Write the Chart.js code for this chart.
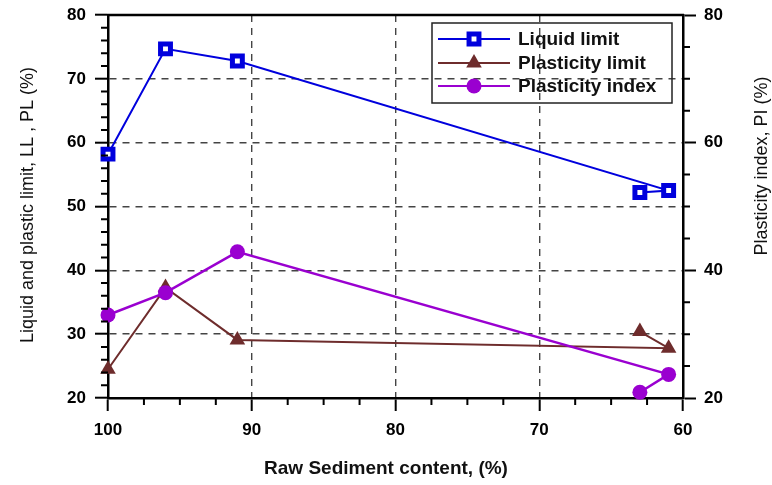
<!DOCTYPE html>
<html>
<head>
<meta charset="utf-8">
<script src="https://cdn.jsdelivr.net/npm/chart.js@4/dist/chart.umd.min.js"></script>
<style>
  html, body { margin: 0; padding: 0; background: #fff; }
  canvas { display: block; }
</style>
</head>
<body>
<canvas id="myChart" width="772" height="485"></canvas>
<script>
// x values in the order the original plot joins them
const sedimentContent = [100, 96, 91, 61, 63];
const liquidLimit = [58.2, 74.7, 72.8, 52.5, 52.2];
const plasticLimit = [24.5, 37.3, 29.1, 27.8, 30.4];
const plasticityIndex = [33.0, 36.5, 42.9, 23.7, 20.9];

const xTicks = [100, 90, 80, 70, 60];
const leftTicks = [20, 30, 40, 50, 60, 70, 80];
const rightTicks = [20, 40, 60, 80];

const seriesNames = ['Liquid limit', 'Plasticity limit', 'Plasticity index'];

const FONT = 'Arial, "Liberation Sans", Helvetica, sans-serif';
const BLUE = '#0000dd';
const BROWN = '#6e2c2c';
const PURPLE = '#9a00d0';

const toPoints = (vals) => sedimentContent.map((x, i) => ({ x: x, y: vals[i] }));

// grid dashed only inside, not on the frame
function innerGrid(ctx) {
    const s = ctx.scale;
    if (ctx.tick && (ctx.tick.value === s.min || ctx.tick.value === s.max)) return 'rgba(0,0,0,0)';
    return '#444';
}

// minor ticks, titles, frame top and legend
const extrasPlugin = {
    id: 'extras',
    afterDraw(chart) {
        const ctx = chart.ctx;
        const a = chart.chartArea;
        const x = chart.scales.x, y = chart.scales.y, y1 = chart.scales.y1;
        ctx.save();
        ctx.strokeStyle = '#000';
        ctx.lineWidth = 2;
        ctx.beginPath();
        for (let v = 60; v <= 100; v += 2.5) {
            if (v % 10 === 0) continue;
            const px = x.getPixelForValue(v);
            ctx.moveTo(px, a.bottom); ctx.lineTo(px, a.bottom + 7);
        }
        for (let v = 20; v <= 80; v += 2) {
            if (v % 10 === 0) continue;
            const py = y.getPixelForValue(v);
            ctx.moveTo(a.left, py); ctx.lineTo(a.left - 7, py);
        }
        for (let v = 20; v <= 80; v += 5) {
            if (v % 20 === 0) continue;
            const py = y1.getPixelForValue(v);
            ctx.moveTo(a.right, py); ctx.lineTo(a.right + 7, py);
        }
        ctx.stroke();

        // top frame line
        ctx.lineWidth = 2.5;
        ctx.beginPath();
        ctx.moveTo(a.left - 1, a.top); ctx.lineTo(a.right + 1, a.top);
        ctx.stroke();

        // axis titles
        ctx.fillStyle = '#111';
        ctx.textAlign = 'center';
        ctx.textBaseline = 'middle';
        ctx.font = 'bold 19px ' + FONT;
        ctx.fillText('Raw Sediment content, (%)', 386, 469);

        ctx.font = '18px ' + FONT;
        ctx.save();
        ctx.translate(28, 205);
        ctx.rotate(-Math.PI / 2);
        ctx.fillText('Liquid and plastic limit, LL , PL (%)', 0, 0);
        ctx.restore();
        ctx.save();
        ctx.translate(762, 166);
        ctx.rotate(-Math.PI / 2);
        ctx.fillText('Plasticity index, PI (%)', 0, 0);
        ctx.restore();

        // legend box
        ctx.lineWidth = 1.5;
        ctx.strokeStyle = '#222';
        ctx.strokeRect(432, 23, 240, 80);
        const rows = [39, 63, 86];
        chart.data.datasets.forEach((ds, i) => {
            const ry = rows[i];
            ctx.strokeStyle = ds.borderColor;
            ctx.lineWidth = 2;
            ctx.beginPath();
            ctx.moveTo(438, ry); ctx.lineTo(510, ry);
            ctx.stroke();
            drawMarker(ctx, ds, 474, ry);
            ctx.fillStyle = '#111';
            ctx.textAlign = 'left';
            ctx.font = 'bold 19px ' + FONT;
            ctx.fillText(seriesNames[i], 518, ry + 1);
        });
        ctx.restore();
    }
};

function drawMarker(ctx, ds, cx, cy) {
    const r = ds.pointRadius;
    ctx.fillStyle = ds.pointBackgroundColor;
    ctx.strokeStyle = ds.pointBorderColor;
    ctx.lineWidth = ds.pointBorderWidth;
    ctx.beginPath();
    if (ds.pointStyle === 'rect') {
        const s = Math.SQRT1_2 * r;
        ctx.rect(cx - s, cy - s, 2 * s, 2 * s);
    } else if (ds.pointStyle === 'triangle') {
        let rad = 0;
        ctx.moveTo(cx + Math.sin(rad) * r, cy - Math.cos(rad) * r);
        rad += 2 * Math.PI / 3;
        ctx.lineTo(cx + Math.sin(rad) * r, cy - Math.cos(rad) * r);
        rad += 2 * Math.PI / 3;
        ctx.lineTo(cx + Math.sin(rad) * r, cy - Math.cos(rad) * r);
        ctx.closePath();
    } else {
        ctx.arc(cx, cy, r, 0, Math.PI * 2);
    }
    ctx.fill();
    if (ds.pointBorderWidth) ctx.stroke();
}

// keep the plot frame where the original has it
function fixVertical(width) {
    return (s) => {
        s.width = width;
        s.paddingTop = 0;
        s.paddingBottom = 0;
    };
}

const myChart = new Chart(document.getElementById('myChart'), {
    type: 'scatter',
    data: {
        datasets: [
            {
                label: seriesNames[0],
                data: toPoints(liquidLimit),
                yAxisID: 'y',
                showLine: true,
                borderColor: BLUE,
                borderWidth: 2,
                pointStyle: 'rect',
                pointRadius: 7,
                pointBackgroundColor: '#fff',
                pointBorderColor: BLUE,
                pointBorderWidth: 5,
                clip: false,
                order: 3
            },
            {
                label: seriesNames[1],
                data: toPoints(plasticLimit),
                yAxisID: 'y',
                showLine: true,
                borderColor: BROWN,
                borderWidth: 2,
                pointStyle: 'triangle',
                pointRadius: 9,
                pointBackgroundColor: BROWN,
                pointBorderColor: BROWN,
                pointBorderWidth: 0,
                clip: false,
                order: 2
            },
            {
                label: seriesNames[2],
                data: toPoints(plasticityIndex),
                yAxisID: 'y1',
                showLine: true,
                borderColor: PURPLE,
                borderWidth: 2.5,
                pointStyle: 'circle',
                pointRadius: 7.5,
                pointBackgroundColor: PURPLE,
                pointBorderColor: PURPLE,
                pointBorderWidth: 0,
                clip: false,
                order: 1
            }
        ]
    },
    options: {
        responsive: false,
        animation: false,
        devicePixelRatio: 1,
        layout: { padding: { top: 15, left: 0, right: 0, bottom: 0 } },
        plugins: {
            legend: { display: false },
            tooltip: { enabled: false }
        },
        scales: {
            x: {
                type: 'linear',
                reverse: true,
                min: 60,
                max: 100,
                afterBuildTicks: (s) => { s.ticks = xTicks.map(v => ({ value: v })); },
                afterFit: (s) => { s.height = 87; },
                ticks: {
                    color: '#000',
                    padding: 9,
                    font: { family: FONT, size: 17, weight: 'bold' }
                },
                grid: {
                    color: innerGrid,
                    lineWidth: 1.4,
                    tickColor: '#000',
                    tickWidth: 2,
                    tickLength: 13
                },
                border: { color: '#000', width: 2.5, dash: [7, 6] }
            },
            y: {
                position: 'left',
                min: 20,
                max: 80,
                afterBuildTicks: (s) => { s.ticks = leftTicks.map(v => ({ value: v })); },
                afterFit: fixVertical(108),
                ticks: {
                    color: '#000',
                    padding: 9,
                    font: { family: FONT, size: 17, weight: 'bold' }
                },
                grid: {
                    color: innerGrid,
                    lineWidth: 1.4,
                    tickColor: '#000',
                    tickWidth: 2,
                    tickLength: 13
                },
                border: { color: '#000', width: 2.5, dash: [7, 6] }
            },
            y1: {
                position: 'right',
                min: 20,
                max: 80,
                afterBuildTicks: (s) => { s.ticks = rightTicks.map(v => ({ value: v })); },
                afterFit: fixVertical(89),
                ticks: {
                    color: '#000',
                    padding: 8,
                    font: { family: FONT, size: 17, weight: 'bold' }
                },
                grid: {
                    drawOnChartArea: false,
                    tickColor: '#000',
                    tickWidth: 2,
                    tickLength: 13
                },
                border: { color: '#000', width: 2.5 }
            }
        }
    },
    plugins: [extrasPlugin]
});
</script>
</body>
</html>
